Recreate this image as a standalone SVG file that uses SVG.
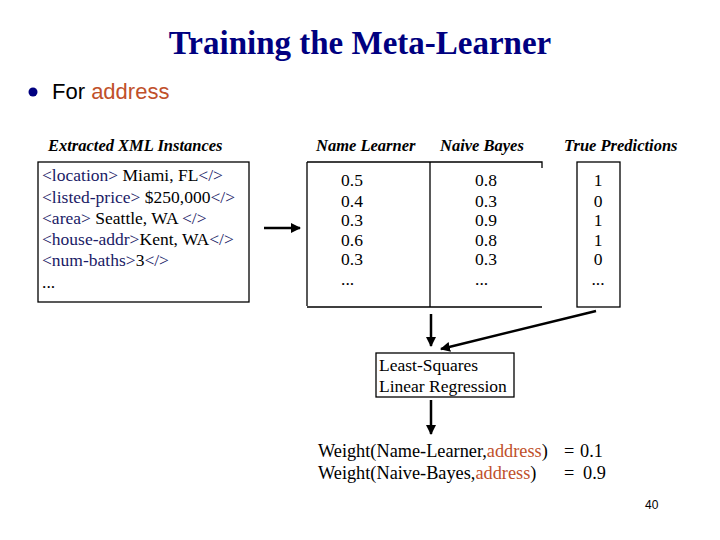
<svg xmlns="http://www.w3.org/2000/svg" width="720" height="540" viewBox="0 0 720 540">
<style>
.s{font-family:"Liberation Serif",serif;font-size:17.5px;fill:#000}
.w{font-size:18.3px}
.h{font-family:"Liberation Serif",serif;font-size:16.5px;font-weight:bold;font-style:italic}
.t{fill:#1a1a66}
.r{fill:#c0502a}
.ln{stroke:#000;stroke-width:1.3;fill:none}
.ar{stroke:#000;stroke-width:2.5;fill:none}
</style>
<defs><marker id="a" viewBox="0 0 10 10" refX="9" refY="5" markerWidth="4" markerHeight="4" orient="auto"><path d="M0,0L10,5L0,10z" fill="#000"/></marker></defs>
<rect width="720" height="540" fill="#fff"/>
<text x="360" y="54" text-anchor="middle" style="font-family:'Liberation Serif',serif;font-size:33px;font-weight:bold;fill:#000080">Training the Meta-Learner</text>
<circle cx="33" cy="92" r="4.5" fill="#000080"/>
<text x="52" y="99" style="font-family:'Liberation Sans',sans-serif;font-size:22px">For <tspan class="r">address</tspan></text>
<text x="48" y="151" class="h">Extracted XML Instances</text>
<text x="316" y="151" class="h">Name Learner</text>
<text x="440" y="151" class="h">Naive Bayes</text>
<text x="564" y="151" class="h">True Predictions</text>
<g id="xml">
<rect x="38" y="162" width="211" height="140" class="ln"/>
<text class="s" x="42" y="181"><tspan class="t">&lt;location&gt;</tspan> Miami, FL<tspan class="t">&lt;/&gt;</tspan></text>
<text class="s" x="42" y="203"><tspan class="t">&lt;listed-price&gt;</tspan> $250,000<tspan class="t">&lt;/&gt;</tspan></text>
<text class="s" x="42" y="224"><tspan class="t">&lt;area&gt;</tspan> Seattle, WA <tspan class="t">&lt;/&gt;</tspan></text>
<text class="s" x="42" y="245"><tspan class="t">&lt;house-addr&gt;</tspan>Kent, WA<tspan class="t">&lt;/&gt;</tspan></text>
<text class="s" x="42" y="266"><tspan class="t">&lt;num-baths&gt;</tspan>3<tspan class="t">&lt;/&gt;</tspan></text>
<text class="s" x="42" y="288">...</text>
</g>
<g id="table">
<path d="M307,162V306M307,162H542V168M307,307H542M430,162V307" class="ln"/>
<g class="s">
<text x="341" y="186">0.5</text><text x="341" y="207">0.4</text><text x="341" y="226">0.3</text><text x="341" y="246">0.6</text><text x="341" y="265">0.3</text><text x="341" y="285">...</text>
<text x="475" y="186">0.8</text><text x="475" y="207">0.3</text><text x="475" y="226">0.9</text><text x="475" y="246">0.8</text><text x="475" y="265">0.3</text><text x="475" y="285">...</text>
</g>
</g>
<g id="truth">
<rect x="577" y="162" width="43" height="145" class="ln"/>
<g class="s" text-anchor="middle"><text x="598" y="186">1</text><text x="598" y="207">0</text><text x="598" y="226">1</text><text x="598" y="246">1</text><text x="598" y="265">0</text><text x="598" y="285">...</text></g>
</g>
<g id="lslr">
<rect x="376" y="353" width="138" height="44" class="ln"/>
<text class="s" x="379" y="371">Least-Squares</text>
<text class="s" x="379" y="392">Linear Regression</text>
</g>
<g id="result" class="s w">
<text x="318" y="457">Weight(Name-Learner,<tspan class="r">address</tspan>)</text>
<text x="318" y="479">Weight(Naive-Bayes,<tspan class="r">address</tspan>)</text>
<text x="564" y="457">=</text><text x="580" y="457">0.1</text>
<text x="564" y="479">=</text><text x="583" y="479">0.9</text>
</g>
<text x="645" y="509" style="font-family:'Liberation Sans',sans-serif;font-size:12px">40</text>
<g id="connectors">
<line x1="264" y1="228" x2="300" y2="228" class="ar" marker-end="url(#a)"/>
<line x1="431" y1="314" x2="431" y2="346" class="ar" marker-end="url(#a)"/>
<line x1="596" y1="311" x2="441" y2="349" class="ar" marker-end="url(#a)"/>
<line x1="431" y1="400" x2="431" y2="434" class="ar" marker-end="url(#a)"/>
</g>
</svg>
